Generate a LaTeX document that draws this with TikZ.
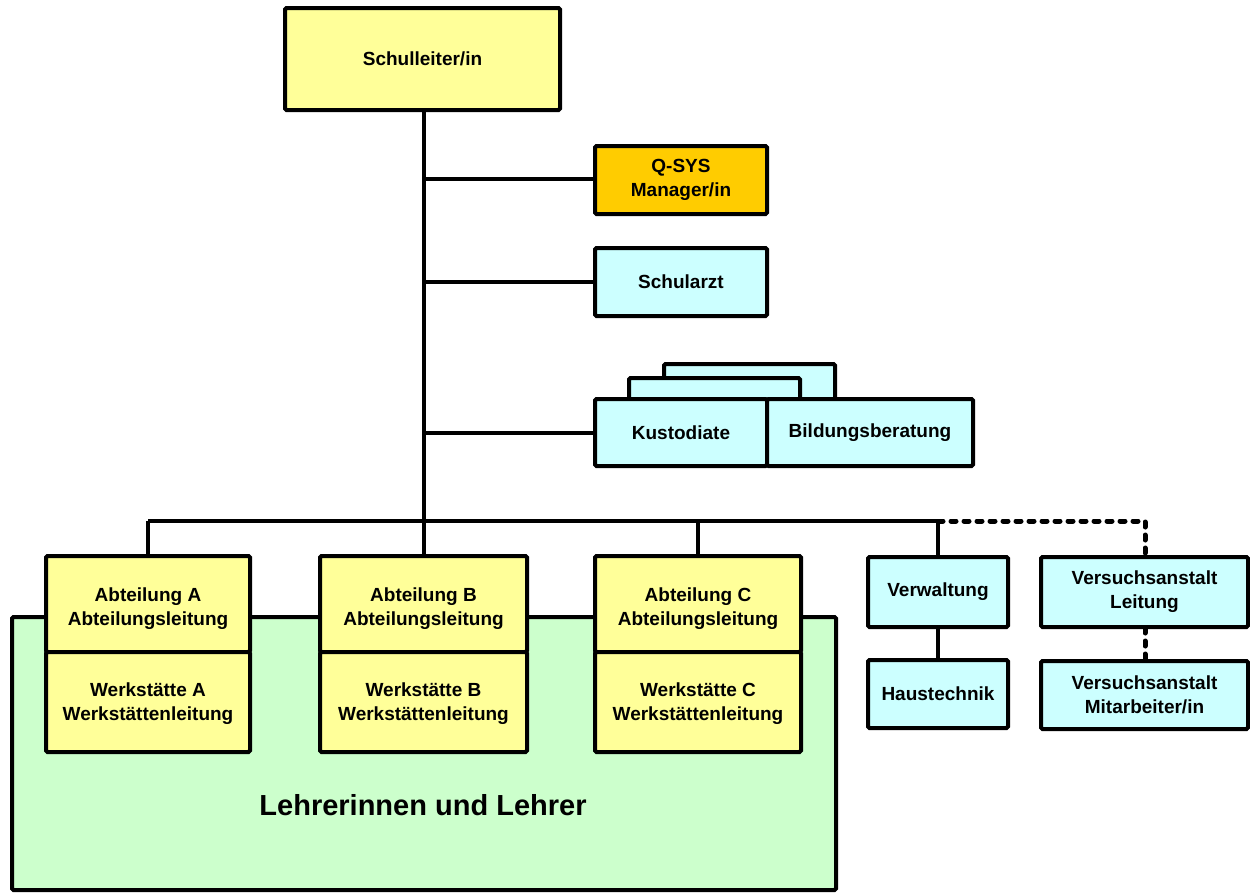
\documentclass[tikz,border=0pt]{standalone}
\usepackage{fontspec}
\setmainfont{Liberation Sans}
\definecolor{yel}{HTML}{FFFF99}
\definecolor{cya}{HTML}{CCFFFF}
\definecolor{ora}{HTML}{FFCC00}
\definecolor{grn}{HTML}{CCFFCC}
\begin{document}
\begin{tikzpicture}[x=1pt,y=-1pt,
  orgbox/.style={draw=black, line width=4pt, rounded corners=1.5pt, align=center,
    font=\fontsize{19}{24}\selectfont\bfseries, inner sep=0pt},
  boxtext/.style={align=center, font=\fontsize{19}{24}\selectfont\bfseries, inner sep=0pt},
  link/.style={line width=4pt},
  dotlink/.style={line width=5pt, line cap=round, dash pattern=on 5pt off 8pt}]
\useasboundingbox (0,0) rectangle (1250,892);

% teaching staff area
\node[orgbox, fill=grn, minimum width=824pt, minimum height=273pt] (staff) at (424,753.5) {};
\node[font=\fontsize{29}{34}\selectfont\bfseries] (stafftxt) at (423,805) {Lehrerinnen und Lehrer};

% connectors
\coordinate (bus) at (424,521);
\coordinate (busL) at (148,521);
\coordinate (busR) at (938,521);
\draw[link] (424,110) -- (bus);
\draw[link] (busL) -- (busR);
\draw[link] (bus) -- (424,556);
\draw[link] (busL) -- (148,556);
\draw[link] (698,521) -- (698,556);
\draw[link] (busR) -- (938,556);
\draw[link] (938,626) -- (938,660);
\draw[link] (424,179) -- (595,179);
\draw[link] (424,282) -- (595,282);
\draw[link] (424,433) -- (595,433);
\draw[dotlink] (busR) -- (1145,521) -- (1145,556);
\draw[dotlink] (1145,628) -- (1145,660);

% head of school
\node[orgbox, fill=yel, minimum width=275pt, minimum height=102pt] (head) at (422.5,59) {Schulleiter/in};

% staff units
\node[orgbox, fill=ora, minimum width=172pt, minimum height=68pt] (qsys) at (681,180) {Q-SYS\\Manager/in};
\node[orgbox, fill=cya, minimum width=172pt, minimum height=68pt] (arzt) at (681,282) {Schularzt};
\node[orgbox, fill=cya, minimum width=171pt, minimum height=56pt] (stack2) at (749.5,392) {};
\node[orgbox, fill=cya, minimum width=171pt, minimum height=42pt] (stack1) at (714.5,399) {};
\node[orgbox, fill=cya, minimum width=172pt, minimum height=67pt] (kust) at (681,432.5) {Kustodiate};
\node[orgbox, fill=cya, minimum width=206pt, minimum height=67pt] (bild) at (870,432.5) {Bildungsberatung};

% departments
\node[orgbox, fill=yel, minimum width=204pt, minimum height=96pt] (abtA) at (148,604) {};
\node[boxtext] (abtAt) at ([yshift=-5pt]abtA.center) {Abteilung A\\Abteilungsleitung};
\node[orgbox, fill=yel, minimum width=204pt, minimum height=100pt] (werkA) at (148,702) {};
\node[boxtext] (werkAt) at ([yshift=-2pt]werkA.center) {Werkstätte A\\Werkstättenleitung};
\node[orgbox, fill=yel, minimum width=207pt, minimum height=96pt] (abtB) at (423.5,604) {};
\node[boxtext] (abtBt) at ([yshift=-5pt]abtB.center) {Abteilung B\\Abteilungsleitung};
\node[orgbox, fill=yel, minimum width=207pt, minimum height=100pt] (werkB) at (423.5,702) {};
\node[boxtext] (werkBt) at ([yshift=-2pt]werkB.center) {Werkstätte B\\Werkstättenleitung};
\node[orgbox, fill=yel, minimum width=206pt, minimum height=96pt] (abtC) at (698,604) {};
\node[boxtext] (abtCt) at ([yshift=-5pt]abtC.center) {Abteilung C\\Abteilungsleitung};
\node[orgbox, fill=yel, minimum width=206pt, minimum height=100pt] (werkC) at (698,702) {};
\node[boxtext] (werkCt) at ([yshift=-2pt]werkC.center) {Werkstätte C\\Werkstättenleitung};

% administration and test institute
\node[orgbox, fill=cya, minimum width=140pt, minimum height=70pt] (verw) at (938,592) {Verwaltung};
\node[orgbox, fill=cya, minimum width=140pt, minimum height=68pt] (haus) at (938,694) {Haustechnik};
\node[orgbox, fill=cya, minimum width=207pt, minimum height=70pt] (vl) at (1144.5,592) {Versuchsanstalt\\Leitung};
\node[orgbox, fill=cya, minimum width=207pt, minimum height=68pt] (vm) at (1144.5,695) {Versuchsanstalt\\Mitarbeiter/in};
\end{tikzpicture}
\end{document}
